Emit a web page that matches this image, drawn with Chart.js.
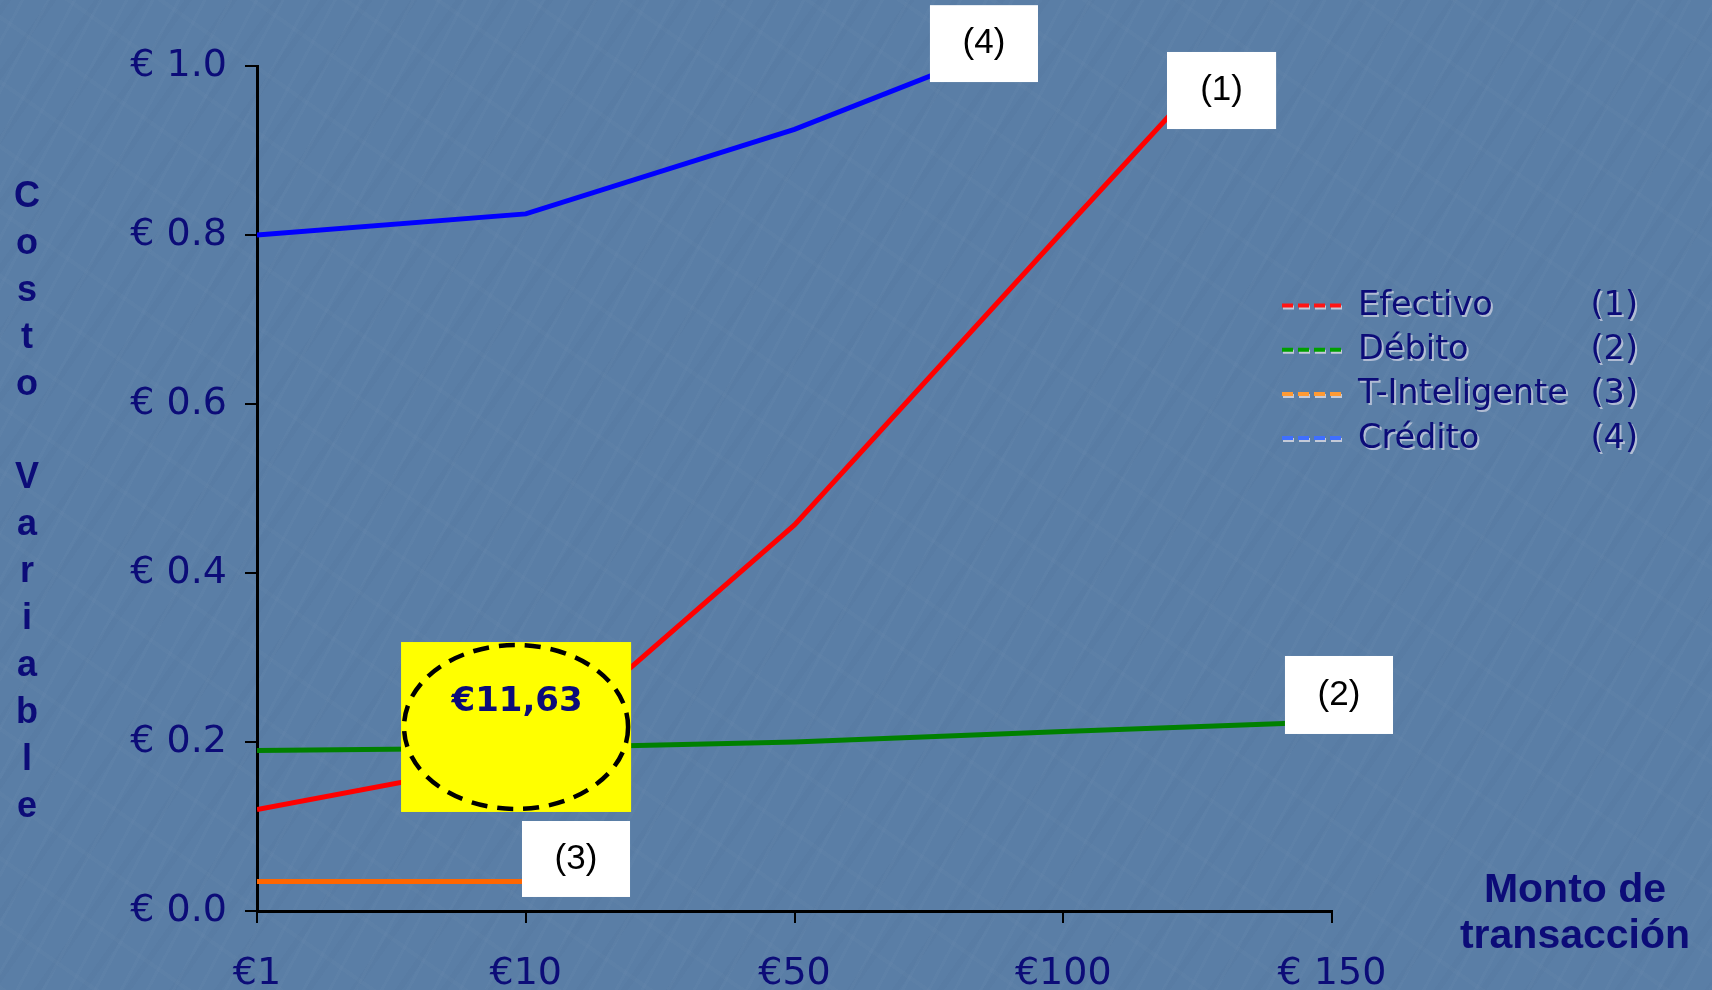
<!DOCTYPE html>
<html>
<head>
<meta charset="utf-8">
<script src="https://cdn.jsdelivr.net/npm/chart.js@4.4.1/dist/chart.umd.min.js"></script>
<style>
  html, body { margin: 0; padding: 0; }
  body {
    width: 1712px; height: 990px; overflow: hidden;
    background-color: #5a7ea6;
    background-image:
      repeating-linear-gradient(-62deg, rgba(255,255,255,0.02) 0px, rgba(255,255,255,0.02) 3px, rgba(0,0,0,0) 3px, rgba(0,0,0,0) 23px),
      repeating-linear-gradient(-55deg, rgba(20,40,80,0.025) 0px, rgba(20,40,80,0.025) 6px, rgba(0,0,0,0) 6px, rgba(0,0,0,0) 37px),
      repeating-linear-gradient(35deg, rgba(255,255,255,0.015) 0px, rgba(255,255,255,0.015) 4px, rgba(0,0,0,0) 4px, rgba(0,0,0,0) 53px);
  }
  #c { display: block; }
</style>
</head>
<body>
<canvas id="c" width="1712" height="990"></canvas>
<script>
// ---- data ----
const categories = ['€1', '€10', '€50', '€100', '€ 150'];
const efectivo     = [0.12, 0.18, 0.457, 0.805, 1.15];
const debito       = [0.19, 0.193, 0.20, 0.2125, 0.224];
const tInteligente = [0.035, 0.035, null, null, null];
const credito      = [0.80, 0.825, 0.925, 1.05, null];
const seriesNames  = ['Efectivo', 'Débito', 'T-Inteligente', 'Crédito'];
const seriesTags   = ['(1)', '(2)', '(3)', '(4)'];
const yAxisTitle   = 'Costo Variable';
const xAxisTitle   = ['Monto de', 'transacción'];
const calloutText  = '€11,63';

// ---- styles ----
const lineColors   = ['#ff0000', '#008000', '#ff6600', '#0000ff'];
const legendColors = ['#ff1414', '#00a000', '#ff9a33', '#3f6fff'];
const navy = '#0c0c78';

// annotation boxes in scale units (category index, value)
const tagBoxes = [
  { tag: '(1)', x0: 3.386, x1: 3.792, y0: 0.9254, y1: 1.0166 },
  { tag: '(2)', x0: 3.825, x1: 4.227, y0: 0.2095, y1: 0.3018 },
  { tag: '(3)', x0: 0.986, x1: 1.388, y0: 0.0166, y1: 0.1065 },
  { tag: '(4)', x0: 2.504, x1: 2.906, y0: 0.981,  y1: 1.072 }
];
const callout = { x0: 0.536, x1: 1.392, y0: 0.1172, y1: 0.3183 };

const seriesData = [efectivo, debito, tInteligente, credito];

const decorPlugin = {
  id: 'decor',
  afterDatasetsDraw(chart) {
    const ctx = chart.ctx;
    const xs = chart.scales.x, ys = chart.scales.y;
    const px = v => xs.getPixelForValue(v);
    const py = v => ys.getPixelForValue(v);

    tagBoxes.forEach(b => {
      const l = px(b.x0), r = px(b.x1), t = py(b.y1), btm = py(b.y0);
      ctx.save();
      ctx.fillStyle = '#ffffff';
      ctx.fillRect(l, t, r - l, btm - t);
      ctx.fillStyle = '#000000';
      ctx.font = '35px "Liberation Sans", Arial, sans-serif';
      ctx.textAlign = 'center';
      ctx.textBaseline = 'middle';
      ctx.fillText(b.tag, (l + r) / 2, (t + btm) / 2);
      ctx.restore();
    });

    {
      const l = px(callout.x0), r = px(callout.x1), t = py(callout.y1), btm = py(callout.y0);
      ctx.save();
      ctx.fillStyle = '#ffff00';
      ctx.fillRect(l, t, r - l, btm - t);
      ctx.beginPath();
      ctx.ellipse((l + r) / 2, (t + btm) / 2, (r - l) / 2 - 3, (btm - t) / 2 - 3, 0, 0, Math.PI * 2);
      ctx.setLineDash([16, 10]);
      ctx.lineWidth = 4.5;
      ctx.strokeStyle = '#000000';
      ctx.stroke();
      ctx.setLineDash([]);
      ctx.fillStyle = navy;
      ctx.font = 'bold 34px "DejaVu Sans", Verdana, sans-serif';
      ctx.textAlign = 'center';
      ctx.textBaseline = 'alphabetic';
      ctx.fillText(calloutText, (l + r) / 2 + 1, t + 69);
      ctx.restore();
    }
  },
  afterDraw(chart) {
    const ctx = chart.ctx;
    ctx.save();
    seriesNames.forEach((name, i) => {
      const base = 315 + i * 44.2;
      const dy = base - 9.5;
      ctx.setLineDash([11, 5]);
      ctx.lineWidth = 4;
      ctx.strokeStyle = 'rgba(215,215,225,0.85)';
      ctx.beginPath(); ctx.moveTo(1283, dy + 2); ctx.lineTo(1343, dy + 2); ctx.stroke();
      ctx.strokeStyle = legendColors[i];
      ctx.beginPath(); ctx.moveTo(1282, dy); ctx.lineTo(1342, dy); ctx.stroke();
      ctx.setLineDash([]);
      ctx.font = '33.5px "DejaVu Sans", Verdana, sans-serif';
      ctx.textBaseline = 'alphabetic';
      ctx.textAlign = 'left';
      ctx.fillStyle = 'rgba(205,210,225,0.75)';
      ctx.fillText(name, 1360, base + 2);
      ctx.fillStyle = navy;
      ctx.fillText(name, 1358, base);
      ctx.textAlign = 'right';
      ctx.fillStyle = 'rgba(205,210,225,0.75)';
      ctx.fillText(seriesTags[i], 1640, base + 2);
      ctx.fillStyle = navy;
      ctx.fillText(seriesTags[i], 1638, base);
    });

    ctx.font = 'bold 36px "Liberation Sans", Arial, sans-serif';
    ctx.textAlign = 'center';
    ctx.textBaseline = 'alphabetic';
    ctx.fillStyle = navy;
    Array.from(yAxisTitle).forEach((ch, i) => {
      if (ch !== ' ') ctx.fillText(ch, 27, 207 + i * 46.9);
    });

    ctx.font = 'bold 41px "Liberation Sans", Arial, sans-serif';
    ctx.fillText(xAxisTitle[0], 1575, 902);
    ctx.fillText(xAxisTitle[1], 1575, 948);
    ctx.restore();
  }
};

const datasets = seriesNames.map((name, i) => ({
  label: name,
  data: seriesData[i],
  borderColor: lineColors[i],
  backgroundColor: lineColors[i],
  borderWidth: 5,
  pointRadius: 0,
  pointHoverRadius: 0,
  tension: 0,
  fill: false,
  spanGaps: false,
  clip: 0
}));

new Chart(document.getElementById('c'), {
  type: 'line',
  data: { labels: categories, datasets },
  options: {
    responsive: false,
    animation: false,
    events: [],
    layout: { padding: { left: 0, top: 66, right: 380, bottom: 0 } },
    plugins: { legend: { display: false }, tooltip: { enabled: false }, title: { display: false } },
    scales: {
      x: {
        type: 'category',
        offset: false,
        afterFit(s) { s.height = 79; },
        grid: { display: true, drawOnChartArea: false, drawTicks: true, tickLength: 12, color: '#000000', lineWidth: 2 },
        border: { display: true, color: '#000000', width: 3 },
        ticks: {
          color: navy,
          font: { family: '"DejaVu Sans", Verdana, sans-serif', size: 38 },
          padding: 28,
          maxRotation: 0,
          autoSkip: false
        }
      },
      y: {
        min: 0, max: 1,
        afterFit(s) { s.width = 257; },
        grid: { display: true, drawOnChartArea: false, drawTicks: true, tickLength: 12, color: '#000000', lineWidth: 2 },
        border: { display: true, color: '#000000', width: 3 },
        ticks: {
          stepSize: 0.2,
          color: navy,
          font: { family: '"DejaVu Sans", Verdana, sans-serif', size: 38 },
          padding: 18,
          callback: v => '€ ' + Number(v).toFixed(1)
        }
      }
    }
  },
  plugins: [decorPlugin]
});
</script>
</body>
</html>
